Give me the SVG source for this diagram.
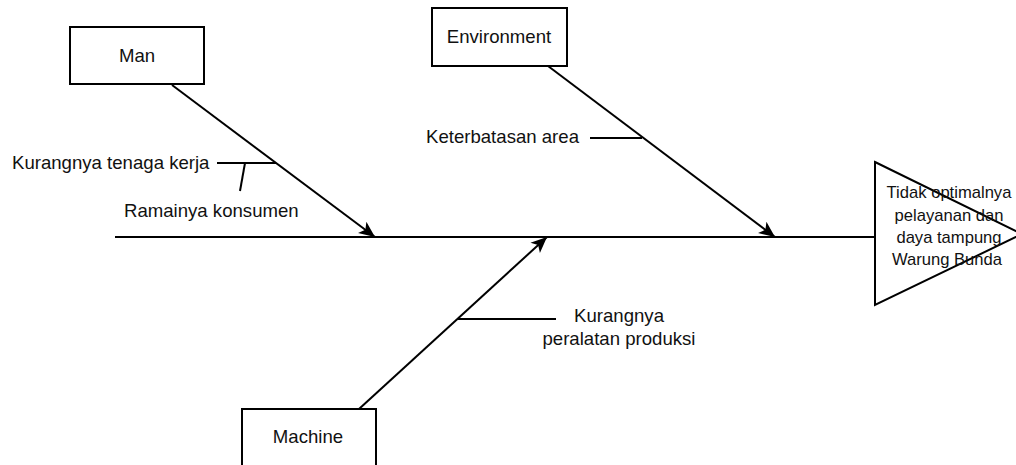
<svg xmlns="http://www.w3.org/2000/svg" width="1016" height="465" viewBox="0 0 1016 465">
<defs>
<style>
.box{fill:#fff;stroke:#000;stroke-width:2}
.ln{fill:none;stroke:#000;stroke-width:2}
.t{font-family:"Liberation Sans",Arial,sans-serif;font-size:18.6px;fill:#111}
.ts{font-family:"Liberation Sans",Arial,sans-serif;font-size:16.6px;fill:#111;text-anchor:middle}
.c{text-anchor:middle}
</style>
<marker id="arr" markerUnits="userSpaceOnUse" markerWidth="20" markerHeight="16" viewBox="0 0 20 16" refX="16" refY="8" orient="auto">
<path d="M0,1 L16,8 L0,15 L4,8 Z" fill="#000"/>
</marker>
</defs>
<g id="connectors">
<line class="ln" x1="115" y1="237" x2="875" y2="237"/>
<line class="ln" x1="172" y1="85" x2="375" y2="237" marker-end="url(#arr)"/>
<line class="ln" x1="548" y1="66" x2="775" y2="237" marker-end="url(#arr)"/>
<line class="ln" x1="359" y1="409" x2="547" y2="237" marker-end="url(#arr)"/>
<line class="ln" x1="217" y1="163" x2="276" y2="163"/>
<line class="ln" x1="245" y1="163" x2="240" y2="191"/>
<line class="ln" x1="590" y1="138" x2="642" y2="138"/>
<line class="ln" x1="458" y1="319" x2="556" y2="319"/>
</g>
<g id="man">
<rect class="box" x="70" y="27" width="134" height="57"/>
<text class="t c" x="137" y="62">Man</text>
</g>
<g id="environment">
<rect class="box" x="432" y="8" width="135" height="58"/>
<text class="t c" x="499" y="43">Environment</text>
</g>
<g id="machine">
<rect class="box" x="242" y="409" width="134" height="70"/>
<text class="t c" x="308" y="443">Machine</text>
</g>
<g id="effect">
<path class="box" d="M875,162 L1022,234 L875,305 Z"/>
<text class="ts" x="949" y="198">Tidak optimalnya</text>
<text class="ts" x="949" y="221">pelayanan dan</text>
<text class="ts" x="949" y="243">daya tampung</text>
<text class="ts" x="947" y="265">Warung Bunda</text>
</g>
<g id="cause-kurangnya-tenaga-kerja">
<text class="t" x="12" y="169">Kurangnya tenaga kerja</text>
</g>
<g id="cause-ramainya-konsumen">
<text class="t" x="124" y="217">Ramainya konsumen</text>
</g>
<g id="cause-keterbatasan-area">
<text class="t" x="426" y="143">Keterbatasan area</text>
</g>
<g id="cause-kurangnya-peralatan">
<text class="t c" x="619" y="322">Kurangnya</text>
<text class="t c" x="619" y="345">peralatan produksi</text>
</g>
</svg>
